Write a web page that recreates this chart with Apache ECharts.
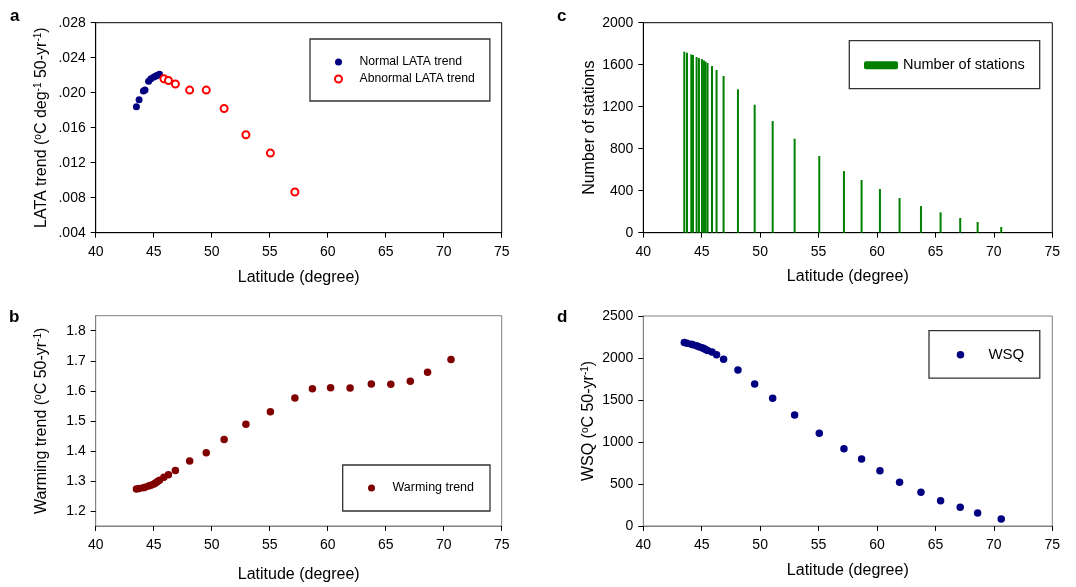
<!DOCTYPE html>
<html>
<head>
<meta charset="utf-8">
<title>Latitude trends</title>
<script src="https://cdn.jsdelivr.net/npm/echarts@6/dist/echarts.min.js"></script>
<style>
  html, body { margin: 0; padding: 0; background: #fff; }
  #chart { width: 1076px; height: 587px; }
</style>
</head>
<body>
<div id="chart"></div>
<script>
// Latitude bins (degrees north) shared by all four panels
const latitudes = [43.51, 43.74, 44.11, 44.25, 44.56, 44.76, 45.02, 45.19, 45.33, 45.50,
  45.88, 46.27, 46.87, 48.10, 49.53, 51.07, 52.95, 55.06, 57.17, 58.68,
  60.25, 61.93, 63.76, 65.44, 67.12, 68.61, 70.63];

// Panel a: LATA trend, normal (first 10 bins) and abnormal (next 9 bins)
const lataNormal = [0.0184, 0.0192, 0.0202, 0.0203, 0.0213, 0.0216, 0.0218, 0.0219, 0.0220, 0.0221];
const lataAbnormal = [0.0216, 0.0214, 0.0210, 0.0203, 0.0203, 0.0182, 0.0152, 0.0131, 0.00865];

// Panel b: warming trend (°C per 50 yr)
const warmingTrend = [1.273, 1.275, 1.277, 1.279, 1.283, 1.286, 1.290, 1.294, 1.298, 1.302,
  1.312, 1.321, 1.335, 1.366, 1.394, 1.438, 1.489, 1.530, 1.576, 1.607,
  1.610, 1.609, 1.623, 1.622, 1.632, 1.662, 1.704];

// Panel c: number of stations
const stationCounts = [1724, 1714, 1698, 1692, 1673, 1663, 1654, 1641, 1629, 1616,
  1587, 1549, 1492, 1365, 1219, 1063, 895, 730, 587, 502,
  416, 330, 254, 194, 140, 102, 54];

// Panel d: WSQ
const wsqValues = [2185, 2175, 2165, 2158, 2145, 2135, 2122, 2112, 2100, 2090,
  2070, 2040, 1984, 1857, 1690, 1520, 1321, 1103, 921, 798,
  659, 520, 401, 302, 222, 155, 83];

// Tick values
const latTicks = { min: 40, max: 75, interval: 5 };
const warmingTickValues = [1.2, 1.3, 1.4, 1.5, 1.6, 1.7, 1.8];

const pairs = (xs, ys, offset) => ys.map((y, i) => [xs[i + (offset || 0)], y]);

const FONT = 'Liberation Sans, Arial, sans-serif';
const BLACK = '#000';
const GRAY = '#808080';

const supRich = {
  sup: { fontSize: 10, fontFamily: FONT, color: BLACK, verticalAlign: 'top', lineHeight: 16, padding: [0, 0, 7, 0] }
};

const plainNumber = v => String(v);

function xAxisFor(gridIndex, lineColor, nameGap) {
  return {
    type: 'value', gridIndex,
    min: latTicks.min, max: latTicks.max, interval: latTicks.interval,
    name: 'Latitude (degree)', nameLocation: 'middle', nameGap,
    nameTextStyle: { fontFamily: FONT, fontSize: 16, color: BLACK },
    axisLine: { lineStyle: { color: lineColor, width: 1 } },
    axisTick: { length: 5, lineStyle: { color: BLACK } },
    axisLabel: { fontFamily: FONT, fontSize: 14, color: BLACK, margin: 12, formatter: plainNumber },
    splitLine: { show: false }
  };
}

function yAxisFor(gridIndex, lineColor, extra) {
  return Object.assign({
    type: 'value', gridIndex,
    nameLocation: 'middle', nameRotate: 90,
    nameTextStyle: { fontFamily: FONT, fontSize: 16, color: BLACK, rich: supRich },
    axisLine: { show: true, lineStyle: { color: lineColor, width: 1 } },
    axisTick: { show: true, length: 5, lineStyle: { color: BLACK } },
    axisLabel: { fontFamily: FONT, fontSize: 14, color: BLACK, margin: 10, formatter: plainNumber },
    splitLine: { show: false }
  }, extra);
}

const legendBase = {
  orient: 'vertical',
  backgroundColor: '#fff',
  borderColor: '#333',
  borderWidth: 1.3,
  selectedMode: false,
  textStyle: { fontFamily: FONT, color: BLACK }
};

const chart = echarts.init(document.getElementById('chart'), null, { renderer: 'canvas' });

chart.setOption({
  animation: false,
  backgroundColor: '#fff',
  grid: [
    { left: 95.7, top: 22.7, width: 406, height: 210, show: true, borderColor: BLACK, borderWidth: 1 },
    { left: 643.3, top: 22.7, width: 409, height: 210, show: true, borderColor: BLACK, borderWidth: 1 },
    { left: 95.7, top: 315.7, width: 406, height: 210.3, show: true, borderColor: GRAY, borderWidth: 1 },
    { left: 643.3, top: 316, width: 409, height: 210, show: true, borderColor: GRAY, borderWidth: 1 }
  ],
  xAxis: [
    xAxisFor(0, BLACK, 37),
    xAxisFor(1, BLACK, 36),
    xAxisFor(2, GRAY, 41),
    xAxisFor(3, GRAY, 36.5)
  ],
  yAxis: [
    yAxisFor(0, BLACK, {
      min: 0.004, max: 0.028, interval: 0.004,
      name: 'LATA trend ({sup|o}C deg{sup|-1} 50-yr{sup|-1})', nameGap: 46,
      axisLabel: { fontFamily: FONT, fontSize: 14, color: BLACK, margin: 10,
        formatter: v => v.toFixed(3).replace(/^0/, '') }
    }),
    yAxisFor(1, BLACK, {
      min: 0, max: 2000, interval: 400,
      name: 'Number of stations', nameGap: 46
    }),
    yAxisFor(2, GRAY, {
      min: 1.15, max: 1.85,
      name: 'Warming trend ({sup|o}C 50-yr{sup|-1})', nameGap: 46,
      axisLabel: { fontFamily: FONT, fontSize: 14, color: BLACK, margin: 10,
        customValues: warmingTickValues, formatter: v => v.toFixed(1) },
      axisTick: { show: true, length: 5, lineStyle: { color: BLACK }, customValues: warmingTickValues }
    }),
    yAxisFor(3, GRAY, {
      min: 0, max: 2500, interval: 500,
      name: 'WSQ ({sup|o}C 50-yr{sup|-1})', nameGap: 47
    })
  ],
  legend: [
    Object.assign({}, legendBase, {
      left: 310, top: 39,
      padding: [17, 15, 16, 24],
      itemWidth: 32, itemHeight: 7, itemGap: 5,
      textStyle: { fontFamily: FONT, fontSize: 12.2, color: BLACK },
      data: ['Normal LATA trend', 'Abnormal LATA trend']
    }),
    Object.assign({}, legendBase, {
      left: 849.3, top: 40.7,
      padding: [17, 15, 16, 14.7],
      itemWidth: 34, itemHeight: 8,
      textStyle: { fontFamily: FONT, fontSize: 14.5, color: BLACK },
      data: ['Number of stations']
    }),
    Object.assign({}, legendBase, {
      left: 342.7, top: 465,
      padding: [16.5, 16, 16.5, 25.3],
      itemWidth: 32, itemHeight: 7,
      textStyle: { fontFamily: FONT, fontSize: 12.5, color: BLACK },
      data: ['Warming trend']
    }),
    Object.assign({}, legendBase, {
      left: 929, top: 330.7,
      padding: [16.5, 15.5, 16, 27.7],
      itemWidth: 46, itemHeight: 7.5,
      textStyle: { fontFamily: FONT, fontSize: 15, color: BLACK },
      data: ['WSQ']
    })
  ],
  graphic: [
    { type: 'text', left: 10, top: 8, style: { text: 'a', font: 'bold 17px ' + FONT, fill: BLACK } },
    { type: 'text', left: 557, top: 8, style: { text: 'c', font: 'bold 17px ' + FONT, fill: BLACK } },
    { type: 'text', left: 9, top: 309, style: { text: 'b', font: 'bold 17px ' + FONT, fill: BLACK } },
    { type: 'text', left: 557, top: 309, style: { text: 'd', font: 'bold 17px ' + FONT, fill: BLACK } }
  ],
  series: [
    {
      name: 'Normal LATA trend', type: 'scatter', xAxisIndex: 0, yAxisIndex: 0,
      symbol: 'circle', symbolSize: 7,
      itemStyle: { color: '#000080', opacity: 1 },
      data: pairs(latitudes, lataNormal, 0)
    },
    {
      name: 'Abnormal LATA trend', type: 'scatter', xAxisIndex: 0, yAxisIndex: 0,
      symbol: 'emptyCircle', symbolSize: 7,
      itemStyle: { color: '#ff0000', borderColor: '#ff0000', borderWidth: 1, opacity: 1 },
      data: pairs(latitudes, lataAbnormal, lataNormal.length)
    },
    {
      name: 'Number of stations', type: 'bar', xAxisIndex: 1, yAxisIndex: 1,
      barWidth: 2,
      itemStyle: { color: '#008000', opacity: 1 },
      data: pairs(latitudes, stationCounts, 0)
    },
    {
      name: 'Warming trend', type: 'scatter', xAxisIndex: 2, yAxisIndex: 2,
      symbol: 'circle', symbolSize: 7.5,
      itemStyle: { color: '#800000', opacity: 1 },
      data: pairs(latitudes, warmingTrend, 0)
    },
    {
      name: 'WSQ', type: 'scatter', xAxisIndex: 3, yAxisIndex: 3,
      symbol: 'circle', symbolSize: 7.5,
      itemStyle: { color: '#000080', opacity: 1 },
      data: pairs(latitudes, wsqValues, 0)
    }
  ]
});
</script>
</body>
</html>
